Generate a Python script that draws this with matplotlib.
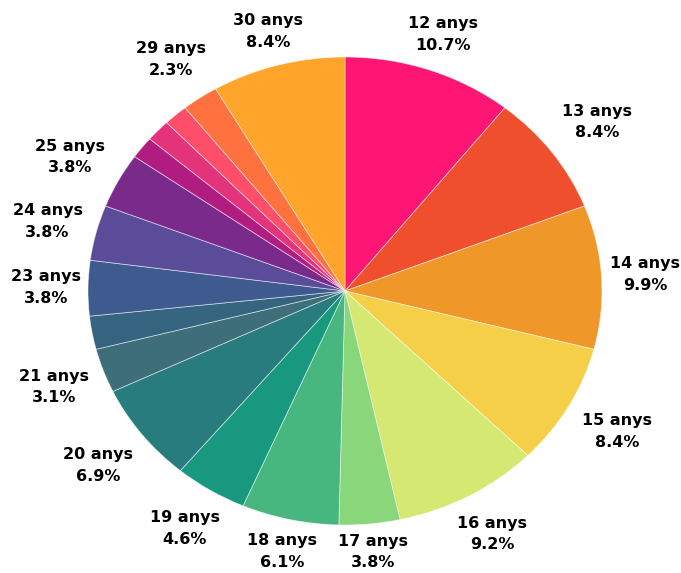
import numpy as np
import matplotlib
matplotlib.use("Agg")
import matplotlib.pyplot as plt

# ---- data ----
ages = ["12 anys", "13 anys", "14 anys", "15 anys", "16 anys", "17 anys",
        "18 anys", "19 anys", "20 anys", "21 anys", "22 anys", "23 anys",
        "24 anys", "25 anys", "26 anys", "27 anys", "28 anys", "29 anys",
        "30 anys"]
counts = [14, 11, 13, 11, 12, 5, 8, 6, 9, 4, 3, 5, 5, 5, 2, 2, 2, 3, 11]
hidden_labels = ["22 anys", "26 anys", "27 anys", "28 anys"]

colors = ["#FF1574", "#F04F2D", "#EF9729", "#F5CF47", "#D4E872", "#89D67B",
          "#47B77F", "#18997F", "#287C7E", "#3E6E7A", "#356480", "#3E5A8F",
          "#5B4C9A", "#7A2A8B", "#B11C80", "#E2337B", "#FF4E69", "#FF723F",
          "#FFA52B"]

W, H = 681, 573
fig = plt.figure(figsize=(W / 100, H / 100), dpi=100)
# ellipse: center (345,291) px, rx 257, ry 234
cx, cy, rx, ry = 345, 291, 257, 234
ax = fig.add_axes([(cx - rx) / W, (H - cy - ry) / H, 2 * rx / W, 2 * ry / H])

wedges, _ = ax.pie(counts, colors=colors, startangle=90, counterclock=False,
                   radius=1.0,
                   wedgeprops=dict(edgecolor=(1, 1, 1, 0.55), linewidth=0.6))
ax.set_aspect("auto")
ax.set_xlim(-1, 1)
ax.set_ylim(-1, 1)
ax.axis("off")

total = sum(counts)
for w, name, c in zip(wedges, ages, counts):
    if name in hidden_labels:
        continue
    mid = np.deg2rad((w.theta1 + w.theta2) / 2)
    r = 1.105 + 0.08 * abs(np.sin(2 * mid)) + 0.055 * np.cos(mid) ** 2
    x, y = r * np.cos(mid), r * np.sin(mid)
    ax.text(x, y, f"{name}\n{100 * c / total:.1f}%", ha="center", va="center",
            fontsize=11.5, fontweight="bold", family="DejaVu Sans",
            linespacing=1.55, color="#000000", clip_on=False)

fig.savefig("out.png", dpi=100)
